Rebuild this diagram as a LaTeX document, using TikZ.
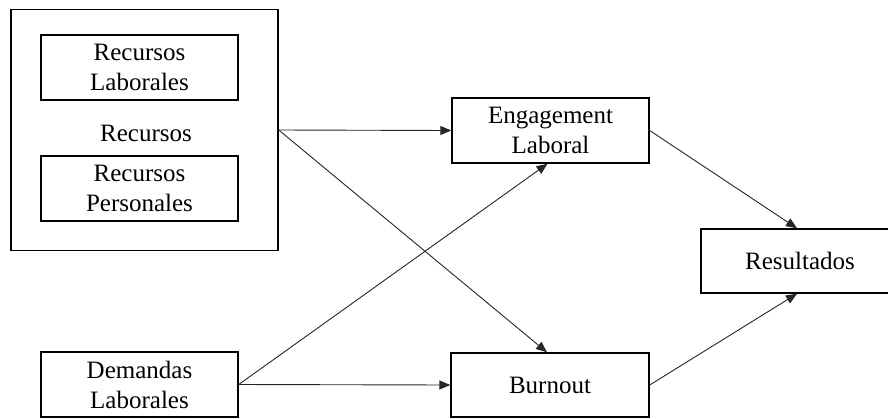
\documentclass[tikz,border=0pt]{standalone}
\usepackage{fontspec}
\setmainfont{Liberation Serif}
\usetikzlibrary{arrows.meta}
\begin{document}
\begin{tikzpicture}[x=1pt,y=-1pt,
  box/.style={draw=black,line width=1.4pt,rectangle,inner sep=0pt,minimum width=197pt,minimum height=65pt,align=center,font=\fontsize{25}{30}\selectfont},
  conn/.style={draw=black!85,line width=0.9pt,-{Triangle[length=11pt,width=9pt]}},
  lbl/.style={inner sep=0pt,font=\fontsize{25}{30}\selectfont}]
\useasboundingbox (0,0) rectangle (888,418);
\clip (0,0) rectangle (888,418);
\fill[white] (0,0) rectangle (888,418);
\node[box,minimum width=267pt,minimum height=241pt] (outer) at (144.5,130) {};
\node[box] (rl) at (139.5,67.5) {Recursos\\Laborales};
\node[lbl] (rec) at (146,133) {Recursos};
\node[box] (rp) at (139.5,188.5) {Recursos\\Personales};
\node[box] (eng) at (550.5,130.5) {Engagement\\Laboral};
\node[box] (dem) at (139.5,384.5) {Demandas\\Laborales};
\node[box,minimum width=198pt,minimum height=64pt] (bur) at (550,385) {Burnout};
\node[box,minimum width=198pt,minimum height=64pt] (res) at (800,261) {Resultados};
\draw[conn] (outer.east) -- (eng.west);
\draw[conn] (outer.east) -- ([xshift=-3pt]bur.north);
\draw[conn] (dem.east) -- (bur.west);
\draw[conn] (dem.east) -- ([xshift=-3pt]eng.south);
\draw[conn] (eng.east) -- ([xshift=-3pt]res.north);
\draw[conn] (bur.east) -- ([xshift=-3pt]res.south);
\end{tikzpicture}
\end{document}
